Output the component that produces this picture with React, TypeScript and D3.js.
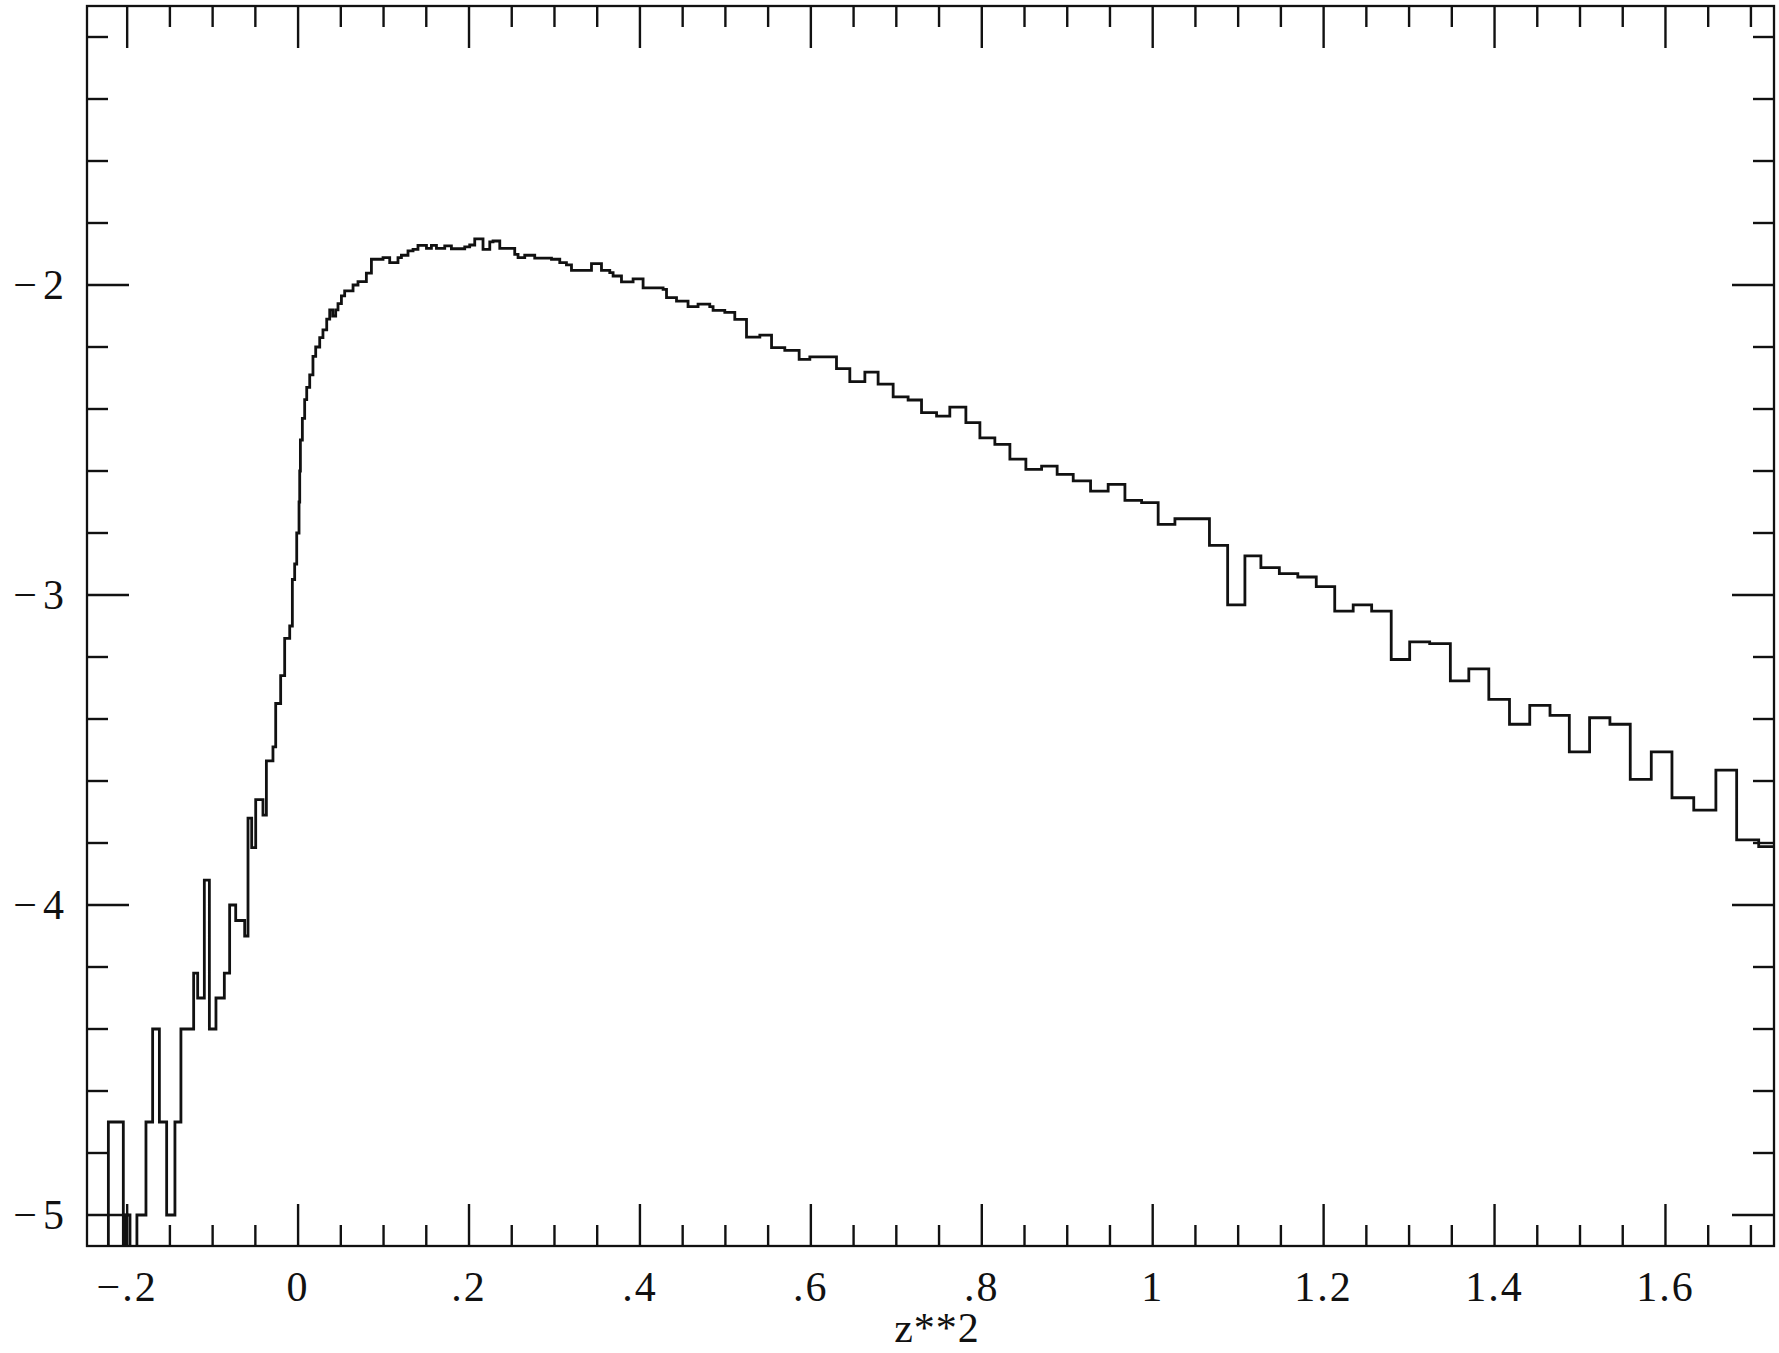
import React from 'react';
import * as d3 from 'd3';

// Left edges of the histogram bins (z**2) and log10 of the normalised counts (null = empty bin)
const binLeft = [
  -0.2474, -0.2220, -0.2045, -0.2024, -0.1967, -0.1886, -0.1780, -0.1702, -0.1623, -0.1538,
  -0.1441, -0.1371, -0.1222, -0.1175, -0.1097, -0.1038, -0.0961, -0.0863, -0.0801, -0.0730,
  -0.0625, -0.0586, -0.0543, -0.0496, -0.0411, -0.0371, -0.0294, -0.0262, -0.0204, -0.0157,
  -0.0098, -0.0067, -0.0040, -0.0016, 0.0011, 0.0019, 0.0027, 0.0050, 0.0077, 0.0101,
  0.0136, 0.0174, 0.0206, 0.0253, 0.0291, 0.0335, 0.0370, 0.0405, 0.0440, 0.0467,
  0.0507, 0.0545, 0.0643, 0.0701, 0.0799, 0.0858, 0.0994, 0.1072, 0.1169, 0.1209,
  0.1286, 0.1345, 0.1403, 0.1502, 0.1560, 0.1619, 0.1716, 0.1794, 0.1950, 0.2008,
  0.2067, 0.2164, 0.2243, 0.2281, 0.2360, 0.2535, 0.2574, 0.2652, 0.2769, 0.2965,
  0.3062, 0.3140, 0.3199, 0.3433, 0.3550, 0.3647, 0.3686, 0.3784, 0.3920, 0.4037,
  0.4271, 0.4311, 0.4428, 0.4563, 0.4680, 0.4817, 0.4856, 0.4993, 0.5110, 0.5247,
  0.5403, 0.5540, 0.5695, 0.5863, 0.5988, 0.6300, 0.6456, 0.6632, 0.6787, 0.6963,
  0.7138, 0.7295, 0.7471, 0.7626, 0.7814, 0.7978, 0.8153, 0.8329, 0.8516, 0.8700,
  0.8882, 0.9070, 0.9273, 0.9479, 0.9675, 0.9870, 1.0064, 1.0260, 1.0664, 1.0877,
  1.1079, 1.1266, 1.1482, 1.1698, 1.1914, 1.2130, 1.2346, 1.2562, 1.2791, 1.3007,
  1.3241, 1.3483, 1.3699, 1.3933, 1.4175, 1.4412, 1.4649, 1.4875, 1.5112, 1.5350,
  1.5588, 1.5834, 1.6076, 1.6331, 1.6590, 1.6833, 1.7091,
];

const logCount: (number | null)[] = [
  null, -4.70, null, -5.00, null, -5.00, -4.70, -4.40, -4.70, -5.00,
  -4.70, -4.40, -4.22, -4.30, -3.92, -4.40, -4.30, -4.22, -4.00, -4.05,
  -4.10, -3.72, -3.815, -3.66, -3.71, -3.535, -3.49, -3.35, -3.26, -3.14,
  -3.10, -2.95, -2.90, -2.80, -2.70, -2.60, -2.50, -2.43, -2.37, -2.33,
  -2.29, -2.23, -2.20, -2.17, -2.145, -2.11, -2.08, -2.10, -2.08, -2.06,
  -2.035, -2.019, -2.00, -1.989, -1.962, -1.917, -1.912, -1.928, -1.912, -1.904,
  -1.890, -1.885, -1.872, -1.882, -1.872, -1.882, -1.874, -1.883, -1.877, -1.871,
  -1.851, -1.885, -1.861, -1.858, -1.882, -1.901, -1.912, -1.904, -1.913, -1.917,
  -1.928, -1.935, -1.953, -1.931, -1.953, -1.960, -1.971, -1.990, -1.980, -2.009,
  -2.014, -2.041, -2.052, -2.070, -2.062, -2.070, -2.082, -2.088, -2.111, -2.168,
  -2.162, -2.202, -2.211, -2.240, -2.232, -2.270, -2.312, -2.281, -2.320, -2.361,
  -2.371, -2.412, -2.423, -2.394, -2.444, -2.493, -2.514, -2.562, -2.595, -2.584,
  -2.611, -2.632, -2.665, -2.643, -2.695, -2.702, -2.772, -2.754, -2.840, -3.032,
  -2.874, -2.912, -2.931, -2.942, -2.973, -3.052, -3.032, -3.052, -3.208, -3.151,
  -3.157, -3.277, -3.238, -3.337, -3.417, -3.356, -3.388, -3.506, -3.396, -3.417,
  -3.595, -3.506, -3.654, -3.694, -3.565, -3.790, -3.812,
];

const lastEdge = 1.727;
const xDomain: [number, number] = [-0.247, 1.727];
const yDomain: [number, number] = [-5.1, -1.1];

const xMajorTicks = [-0.2, 0, 0.2, 0.4, 0.6, 0.8, 1.0, 1.2, 1.4, 1.6];
const xTickLabels = ['\u2212.2', '0', '.2', '.4', '.6', '.8', '1', '1.2', '1.4', '1.6'];
const yMajorTicks = [-5, -4, -3, -2];
const yTickLabels = ['5', '4', '3', '2'];
const xTitle = 'z**2';

export default function App() {
  const W = 1779;
  const H = 1353;
  const left = 87;
  const right = 1774;
  const top = 6;
  const bottom = 1246;
  const majorLen = 42;
  const minorLen = 21;
  const font = '"Liberation Serif", "Times New Roman", serif';

  const x = d3.scaleLinear().domain(xDomain).range([left, right]);
  const y = d3.scaleLinear().domain(yDomain).range([bottom, top]);

  const xMinor = d3
    .range(-8, 35)
    .map((k) => +(k * 0.05).toFixed(2))
    .filter((v) => v > xDomain[0] && v < xDomain[1])
    .filter((v) => !xMajorTicks.some((m) => Math.abs(m - v) < 1e-6));
  const yMinor = d3
    .range(-25, -5)
    .map((k) => +(k * 0.2).toFixed(2))
    .filter((v) => v > yDomain[0] && v < yDomain[1])
    .filter((v) => !yMajorTicks.some((m) => Math.abs(m - v) < 1e-6));

  const floor = yDomain[0] - 1;
  const pts: [number, number][] = binLeft.map((b, i) => [b, logCount[i] ?? floor]);
  pts.push([lastEdge, logCount[logCount.length - 1] ?? floor]);
  const line = d3
    .line<[number, number]>()
    .x((d) => x(d[0]))
    .y((d) => y(d[1]))
    .curve(d3.curveStepAfter);

  const stroke = '#111';
  const tw = 2.4;

  return (
    <svg
      width={W}
      height={H}
      viewBox={`0 0 ${W} ${H}`}
      style={{ position: 'absolute', left: 0, top: 0, background: '#fff' }}
    >
      <defs>
        <clipPath id="plotClip">
          <rect x={left} y={top} width={right - left} height={bottom - top} />
        </clipPath>
      </defs>
      <rect x={0} y={0} width={W} height={H} fill="#fff" />

      {/* histogram */}
      <path
        d={line(pts) || ''}
        fill="none"
        stroke={stroke}
        strokeWidth={2.8}
        strokeLinejoin="miter"
        clipPath="url(#plotClip)"
      />

      {/* frame */}
      <rect
        x={left}
        y={top}
        width={right - left}
        height={bottom - top}
        fill="none"
        stroke={stroke}
        strokeWidth={2.3}
      />

      {/* x ticks (bottom and top) */}
      {xMajorTicks.map((v) => (
        <g key={'xM' + v}>
          <line x1={x(v)} x2={x(v)} y1={bottom} y2={bottom - majorLen} stroke={stroke} strokeWidth={tw} />
          <line x1={x(v)} x2={x(v)} y1={top} y2={top + majorLen} stroke={stroke} strokeWidth={tw} />
        </g>
      ))}
      {xMinor.map((v) => (
        <g key={'xm' + v}>
          <line x1={x(v)} x2={x(v)} y1={bottom} y2={bottom - minorLen} stroke={stroke} strokeWidth={tw} />
          <line x1={x(v)} x2={x(v)} y1={top} y2={top + minorLen} stroke={stroke} strokeWidth={tw} />
        </g>
      ))}

      {/* y ticks (left and right) */}
      {yMajorTicks.map((v) => (
        <g key={'yM' + v}>
          <line x1={left} x2={left + majorLen} y1={y(v)} y2={y(v)} stroke={stroke} strokeWidth={tw} />
          <line x1={right} x2={right - majorLen} y1={y(v)} y2={y(v)} stroke={stroke} strokeWidth={tw} />
        </g>
      ))}
      {yMinor.map((v) => (
        <g key={'ym' + v}>
          <line x1={left} x2={left + minorLen} y1={y(v)} y2={y(v)} stroke={stroke} strokeWidth={tw} />
          <line x1={right} x2={right - minorLen} y1={y(v)} y2={y(v)} stroke={stroke} strokeWidth={tw} />
        </g>
      ))}

      {/* tick labels */}
      {xMajorTicks.map((v, i) => (
        <text
          key={'xl' + v}
          x={x(v)}
          y={bottom + 55}
          textAnchor="middle"
          fontFamily={font}
          fontSize={42}
          letterSpacing={2}
          fill={stroke}
        >
          {xTickLabels[i]}
        </text>
      ))}
      {yMajorTicks.map((v, i) => (
        <text
          key={'yl' + v}
          x={left - 23}
          y={y(v) + 14}
          textAnchor="end"
          fontFamily={font}
          fontSize={42}
          fill={stroke}
        >
          <tspan>{'\u2212'}</tspan>
          <tspan dx={6}>{yTickLabels[i]}</tspan>
        </text>
      ))}

      {/* axis title */}
      <text x={937} y={1342} textAnchor="middle" fontFamily={font} fontSize={42} letterSpacing={1} fill={stroke}>
        {xTitle}
      </text>
    </svg>
  );
}
